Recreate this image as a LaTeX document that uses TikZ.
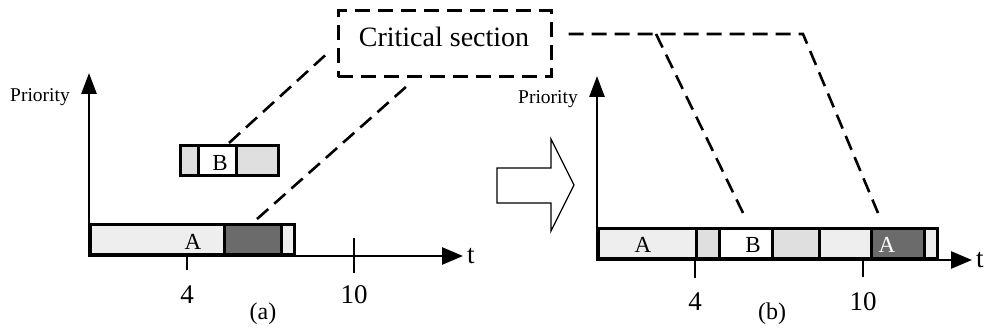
\documentclass[tikz,border=0pt]{standalone}
\usepackage{fontspec}
\setmainfont{Liberation Serif}
\usetikzlibrary{arrows.meta}

\definecolor{lite}{gray}{0.935}
\definecolor{mid}{gray}{0.875}
\definecolor{dark}{gray}{0.42}

\tikzset{
  seg/.style={draw, line width=2.7pt, inner sep=0pt, minimum height=30pt, anchor=south west},
  axis/.style={line width=2.7pt, {Triangle[length=21pt,width=15pt]}-{Triangle[length=21pt,width=17pt]}},
  tick/.style={line width=2.7pt},
  cs/.style={line width=2.6pt, dash pattern=on 15pt off 8pt},
  num/.style={font=\fontsize{27}{30}\selectfont, inner sep=0pt},
  lbl/.style={font=\fontsize{23}{26}\selectfont, inner sep=0pt},
  prio/.style={font=\fontsize{19.5}{22}\selectfont, inner sep=0pt},
}

\begin{document}
\begin{tikzpicture}[x=1pt,y=-1pt]
\useasboundingbox (0,0) rectangle (985,331);

% critical section box
\node[draw, cs, line width=3pt, minimum width=213pt, minimum height=66pt] (crit) at (444.5,44) {};
\node[font=\fontsize{28}{30}\selectfont, inner sep=0pt] (critlbl) at (444,37) {Critical section};

%% (a)
\coordinate (o1) at (89,256);
\coordinate (y1) at (89,73);
\coordinate (x1) at (463,256);
\draw[tick] (187,238) -- (187,270);
\draw[tick] (354,238) -- (354,273);
\draw[axis] (y1) -- (o1) -- (x1);
\node[num, anchor=west] (t1) at ([xshift=4pt]x1) {t};
\node[prio] (p1) at (40,97) {Priority};

\node[seg, fill=lite, minimum width=134pt] (a1) at (89,256) {};
\node[seg, fill=dark, minimum width=57pt] (da1) at (223,256) {};
\node[seg, fill=lite, minimum width=13pt] (ae1) at (280,256) {};
\node[lbl] at (193,242) {A};

\node[seg, fill=mid, minimum width=18pt] (bl1) at (179,177) {};
\node[seg, fill=white, minimum width=38pt] (bw1) at (197,177) {};
\node[seg, fill=mid, minimum width=42pt] (br1) at (235,177) {};
\node[lbl] at (220,163) {B};

\node[num] (n4a) at (187,295) {4};
\node[num] (n10a) at (354,295) {10};
\node[font=\fontsize{24}{26}\selectfont, inner sep=0pt] at (263,314) {(a)};

\coordinate (ea) at (229,143);
\coordinate (eb) at (257,219);
\draw[cs] (ea) -- ([shift={(-11,11)}]crit.west);
\draw[cs] (eb) -- (407,86);

%% arrow between the two
\draw[line width=1.3pt] (497,168) -- (551,168) -- (551,139) -- (574,185)
  -- (551,231) -- (551,203) -- (497,203) -- cycle;

%% (b)
\coordinate (o2) at (597,260);
\coordinate (y2) at (597,76);
\coordinate (x2) at (972,260);
\draw[tick] (695,242) -- (695,278);
\draw[tick] (863,242) -- (863,277);
\draw[axis] (y2) -- (o2) -- (x2);
\node[num, anchor=west] (t2) at ([xshift=4pt]x2) {t};
\node[prio] (p2) at (548,99) {Priority};

\node[seg, fill=lite, minimum width=98pt] (a2) at (597,260) {};
\node[seg, fill=mid, minimum width=23pt] (bl2) at (695,260) {};
\node[seg, fill=white, minimum width=53pt] (bw2) at (718,260) {};
\node[seg, fill=mid, minimum width=47pt] (br2) at (771,260) {};
\node[seg, fill=lite, minimum width=52pt] (ab2) at (818,260) {};
\node[seg, fill=dark, minimum width=53pt] (da2) at (870,260) {};
\node[seg, fill=lite, minimum width=13pt] (ae2) at (923,260) {};
\node[lbl] at (643,245) {A};
\node[lbl] at (753,245) {B};
\node[lbl, text=white] at (887,245) {A};

\node[num] (n4b) at (695,302) {4};
\node[num] (n10b) at (863,302) {10};
\node[font=\fontsize{24}{26}\selectfont, inner sep=0pt] at (772,314) {(b)};

\coordinate (hb) at (656,34);
\coordinate (hd) at (803,34);
\draw[cs] ([shift={(16,-10)}]crit.east) -- (hd) -- (878,213);
\draw[cs] (hb) -- (745,217);
\end{tikzpicture}
\end{document}
